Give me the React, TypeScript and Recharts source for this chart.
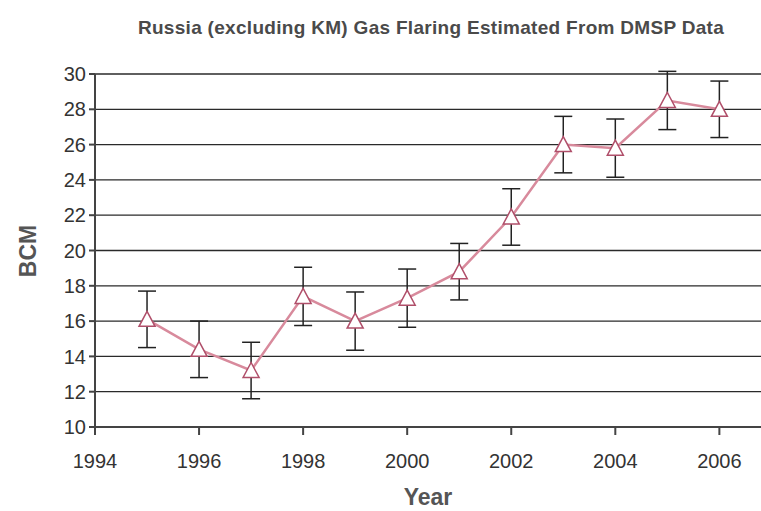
import { LineChart, Line, XAxis, YAxis, CartesianGrid, ErrorBar } from 'recharts'

const years = [1995, 1996, 1997, 1998, 1999, 2000, 2001, 2002, 2003, 2004, 2005, 2006]
const bcm = [16.1, 14.4, 13.2, 17.4, 16.0, 17.3, 18.8, 21.9, 26.0, 25.8, 28.5, 28.0]
const errors = [1.6, 1.6, 1.6, 1.65, 1.65, 1.65, 1.6, 1.6, 1.6, 1.65, 1.65, 1.6]
const xTicks = [1994, 1996, 1998, 2000, 2002, 2004, 2006]
const yTicks = [10, 12, 14, 16, 18, 20, 22, 24, 26, 28, 30]

const data = years.map((year, i) => ({ year, bcm: bcm[i], err: errors[i] }))

const Triangle = (props: any) => {
  const { cx, cy } = props
  if (cx == null || cy == null) return null
  return (
    <polygon
      points={`${cx},${cy - 8} ${cx - 8},${cy + 7} ${cx + 8},${cy + 7}`}
      fill="#ffffff"
      stroke="#b04f6a"
      strokeWidth={1.5}
    />
  )
}

const font = 'Liberation Sans, Arial, sans-serif'

export default function App() {
  return (
    <div style={{ position: 'absolute', left: 0, top: 0, width: 761, height: 511, background: '#fff', fontFamily: font }}>
      <div
        style={{
          position: 'absolute',
          left: 0,
          width: 862,
          top: 17,
          textAlign: 'center',
          fontSize: 19,
          fontWeight: 'bold',
          color: '#4a4a4a',
          letterSpacing: 0.3,
          whiteSpace: 'nowrap',
        }}
      >
        Russia (excluding KM) Gas Flaring Estimated From DMSP Data
      </div>
      <div
        style={{
          position: 'absolute',
          left: 28,
          top: 251,
          transform: 'translate(-50%, -50%) rotate(-90deg)',
          fontSize: 23,
          fontWeight: 'bold',
          color: '#555',
        }}
      >
        BCM
      </div>
      <div
        style={{
          position: 'absolute',
          left: 428,
          top: 497,
          transform: 'translate(-50%, -50%)',
          fontSize: 23,
          fontWeight: 'bold',
          color: '#555',
        }}
      >
        Year
      </div>
      <LineChart
        width={761}
        height={511}
        data={data}
        margin={{ top: 74, right: 0, left: 0, bottom: 40 }}
        style={{ position: 'absolute', left: 0, top: 0 }}
      >
        <CartesianGrid horizontal vertical={false} stroke="#2a2a2a" strokeWidth={1.3} />
        <XAxis
          dataKey="year"
          type="number"
          domain={[1994, 2006.8]}
          ticks={xTicks}
          allowDataOverflow
          height={44}
          stroke="#444"
          strokeWidth={2}
          tickSize={8}
          tickMargin={19}
          tick={{ fill: '#333', fontSize: 20, fontFamily: font }}
        />
        <YAxis
          domain={[10, 30]}
          ticks={yTicks}
          allowDataOverflow
          width={95}
          stroke="#444"
          strokeWidth={2}
          tickSize={6}
          tickMargin={3}
          tick={{ fill: '#333', fontSize: 20, fontFamily: font }}
        />
        <Line
          dataKey="bcm"
          stroke="#d88a9c"
          strokeWidth={2.5}
          dot={<Triangle />}
          activeDot={false}
          isAnimationActive={false}
        >
          <ErrorBar dataKey="err" direction="y" width={9} stroke="#222" strokeWidth={1.5} />
        </Line>
      </LineChart>
    </div>
  )
}
